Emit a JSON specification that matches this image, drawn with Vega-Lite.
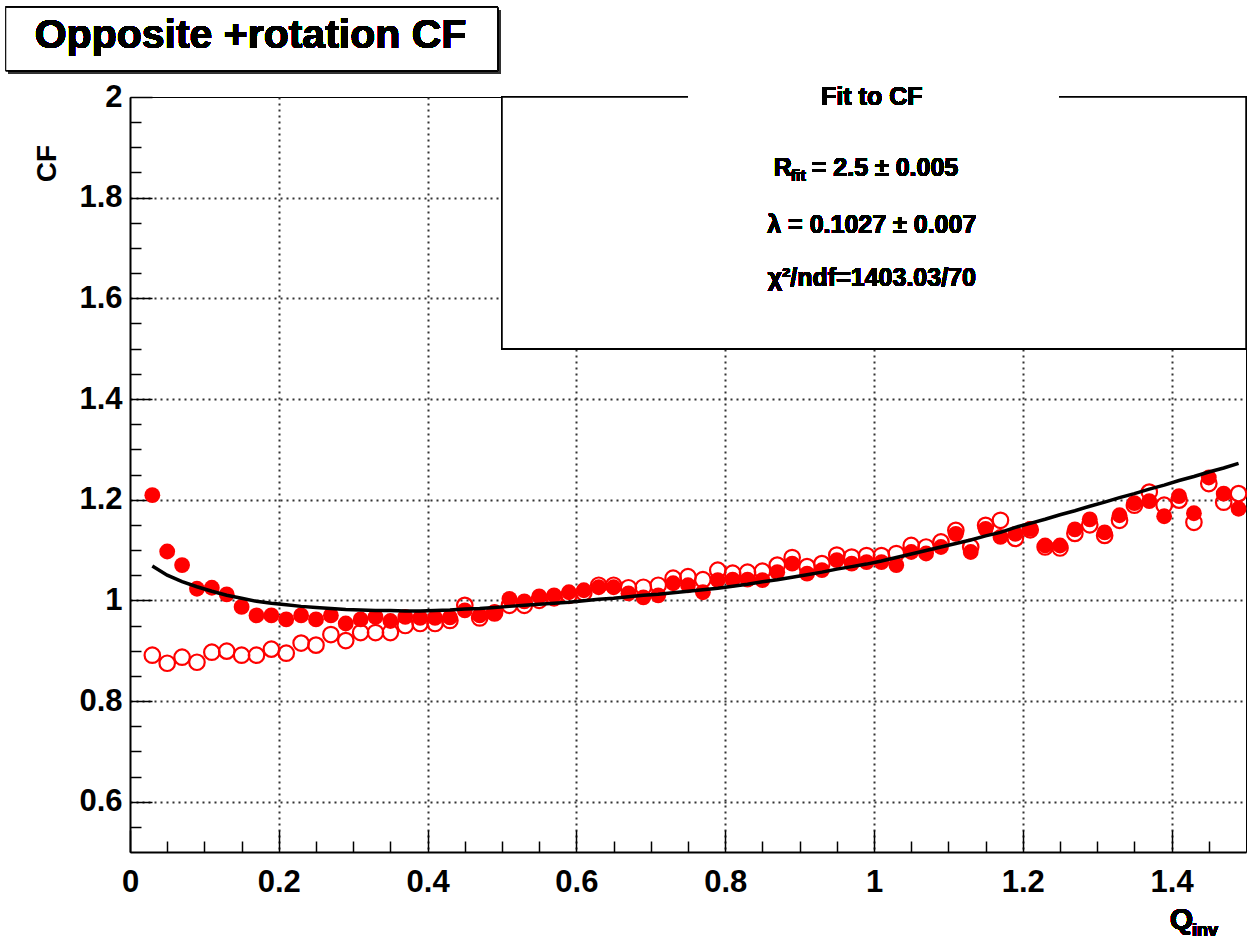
{
  "$schema": "https://vega.github.io/schema/vega-lite/v6.json",
  "autosize": "none",
  "width": 1116,
  "height": 755,
  "padding": {"left": 130, "top": 97, "right": 1, "bottom": 87},
  "background": "white",
  "config": {
    "view": {"stroke": "black", "strokeWidth": 1},
    "font": "Liberation Sans"
  },
  "resolve": {"scale": {"x": "shared", "y": "shared"}, "axis": {"x": "independent", "y": "independent"}},
  "data": {
    "values": [
      {"q": 0.03, "filled": 1.209, "open": 0.891, "fit": 1.068},
      {"q": 0.05, "filled": 1.097, "open": 0.875, "fit": 1.050},
      {"q": 0.07, "filled": 1.070, "open": 0.887, "fit": 1.037},
      {"q": 0.09, "filled": 1.023, "open": 0.877, "fit": 1.027},
      {"q": 0.11, "filled": 1.025, "open": 0.897, "fit": 1.018},
      {"q": 0.13, "filled": 1.012, "open": 0.899, "fit": 1.010},
      {"q": 0.15, "filled": 0.987, "open": 0.891, "fit": 1.004},
      {"q": 0.17, "filled": 0.970, "open": 0.891, "fit": 0.998},
      {"q": 0.19, "filled": 0.970, "open": 0.903, "fit": 0.994},
      {"q": 0.21, "filled": 0.962, "open": 0.895, "fit": 0.991},
      {"q": 0.23, "filled": 0.970, "open": 0.915, "fit": 0.988},
      {"q": 0.25, "filled": 0.962, "open": 0.911, "fit": 0.986},
      {"q": 0.27, "filled": 0.970, "open": 0.932, "fit": 0.984},
      {"q": 0.29, "filled": 0.954, "open": 0.920, "fit": 0.982},
      {"q": 0.31, "filled": 0.962, "open": 0.936, "fit": 0.981},
      {"q": 0.33, "filled": 0.967, "open": 0.936, "fit": 0.980},
      {"q": 0.35, "filled": 0.959, "open": 0.936, "fit": 0.980},
      {"q": 0.37, "filled": 0.967, "open": 0.950, "fit": 0.979},
      {"q": 0.39, "filled": 0.965, "open": 0.954, "fit": 0.979},
      {"q": 0.41, "filled": 0.965, "open": 0.954, "fit": 0.980},
      {"q": 0.43, "filled": 0.966, "open": 0.960, "fit": 0.981},
      {"q": 0.45, "filled": 0.980, "open": 0.990, "fit": 0.983},
      {"q": 0.47, "filled": 0.970, "open": 0.965, "fit": 0.984},
      {"q": 0.49, "filled": 0.976, "open": 0.975, "fit": 0.986},
      {"q": 0.51, "filled": 1.003, "open": 0.990, "fit": 0.988},
      {"q": 0.53, "filled": 0.998, "open": 0.990, "fit": 0.990},
      {"q": 0.55, "filled": 1.008, "open": 1.000, "fit": 0.992},
      {"q": 0.57, "filled": 1.010, "open": 1.005, "fit": 0.994},
      {"q": 0.59, "filled": 1.016, "open": 1.010, "fit": 0.996},
      {"q": 0.61, "filled": 1.020, "open": 1.015, "fit": 0.999},
      {"q": 0.63, "filled": 1.026, "open": 1.030, "fit": 1.002},
      {"q": 0.65, "filled": 1.026, "open": 1.030, "fit": 1.004},
      {"q": 0.67, "filled": 1.014, "open": 1.025, "fit": 1.007},
      {"q": 0.69, "filled": 1.006, "open": 1.026, "fit": 1.010},
      {"q": 0.71, "filled": 1.010, "open": 1.030, "fit": 1.012},
      {"q": 0.73, "filled": 1.034, "open": 1.044, "fit": 1.015},
      {"q": 0.75, "filled": 1.030, "open": 1.047, "fit": 1.018},
      {"q": 0.77, "filled": 1.016, "open": 1.041, "fit": 1.021},
      {"q": 0.79, "filled": 1.040, "open": 1.060, "fit": 1.024},
      {"q": 0.81, "filled": 1.041, "open": 1.054, "fit": 1.028},
      {"q": 0.83, "filled": 1.041, "open": 1.056, "fit": 1.032},
      {"q": 0.85, "filled": 1.040, "open": 1.058, "fit": 1.037},
      {"q": 0.87, "filled": 1.056, "open": 1.070, "fit": 1.041},
      {"q": 0.89, "filled": 1.073, "open": 1.085, "fit": 1.046},
      {"q": 0.91, "filled": 1.053, "open": 1.067, "fit": 1.051},
      {"q": 0.93, "filled": 1.060, "open": 1.073, "fit": 1.056},
      {"q": 0.95, "filled": 1.080, "open": 1.090, "fit": 1.062},
      {"q": 0.97, "filled": 1.073, "open": 1.086, "fit": 1.067},
      {"q": 0.99, "filled": 1.076, "open": 1.089, "fit": 1.072},
      {"q": 1.01, "filled": 1.076, "open": 1.089, "fit": 1.078},
      {"q": 1.03, "filled": 1.070, "open": 1.093, "fit": 1.085},
      {"q": 1.05, "filled": 1.096, "open": 1.109, "fit": 1.092},
      {"q": 1.07, "filled": 1.093, "open": 1.106, "fit": 1.099},
      {"q": 1.09, "filled": 1.106, "open": 1.116, "fit": 1.106},
      {"q": 1.11, "filled": 1.132, "open": 1.139, "fit": 1.113},
      {"q": 1.13, "filled": 1.096, "open": 1.106, "fit": 1.120},
      {"q": 1.15, "filled": 1.142, "open": 1.149, "fit": 1.128},
      {"q": 1.17, "filled": 1.126, "open": 1.159, "fit": 1.135},
      {"q": 1.19, "filled": 1.132, "open": 1.123, "fit": 1.145},
      {"q": 1.21, "filled": 1.142, "open": 1.140, "fit": 1.153},
      {"q": 1.23, "filled": 1.109, "open": 1.106, "fit": 1.161},
      {"q": 1.25, "filled": 1.109, "open": 1.104, "fit": 1.170},
      {"q": 1.27, "filled": 1.141, "open": 1.133, "fit": 1.178},
      {"q": 1.29, "filled": 1.161, "open": 1.150, "fit": 1.187},
      {"q": 1.31, "filled": 1.135, "open": 1.129, "fit": 1.195},
      {"q": 1.33, "filled": 1.169, "open": 1.159, "fit": 1.204},
      {"q": 1.35, "filled": 1.193, "open": 1.189, "fit": 1.212},
      {"q": 1.37, "filled": 1.197, "open": 1.215, "fit": 1.221},
      {"q": 1.39, "filled": 1.167, "open": 1.189, "fit": 1.229},
      {"q": 1.41, "filled": 1.207, "open": 1.199, "fit": 1.238},
      {"q": 1.43, "filled": 1.173, "open": 1.155, "fit": 1.246},
      {"q": 1.45, "filled": 1.244, "open": 1.232, "fit": 1.255},
      {"q": 1.47, "filled": 1.212, "open": 1.195, "fit": 1.263},
      {"q": 1.49, "filled": 1.182, "open": 1.212, "fit": 1.272}
    ]
  },
  "layer": [
    {
      "mark": {"type": "point", "shape": "circle", "filled": true, "color": "#ff0000", "size": 250, "opacity": 1},
      "encoding": {
        "x": {
          "field": "q", "type": "quantitative",
          "scale": {"domain": [0, 1.5], "nice": false, "zero": false},
          "axis": {
            "orient": "bottom",
            "values": [0, 0.2, 0.4, 0.6, 0.8, 1.0, 1.2, 1.4],
            "title": null,
            "format": "~g",
            "labelOverlap": false,
            "labelFlush": false,
            "labelFont": "Liberation Sans",
            "labelFontWeight": "bold",
            "labelFontSize": 31,
            "labelColor": "black",
            "labelPadding": 37,
            "labelBaseline": "top",
            "domainColor": "black",
            "domainWidth": 2,
            "tickColor": "black",
            "tickWidth": 1.5,
            "tickSize": -22,
            "grid": true,
            "gridColor": "#333333",
            "gridWidth": 2,
            "gridDash": [2, 4],
            "gridOpacity": {"condition": {"test": "datum.value > 0.01", "value": 1}, "value": 0}
          }
        },
        "y": {
          "field": "filled", "type": "quantitative",
          "scale": {"domain": [0.5, 2.0], "nice": false, "zero": false},
          "axis": {
            "orient": "left",
            "values": [0.6, 0.8, 1.0, 1.2, 1.4, 1.6, 1.8, 2.0],
            "title": "CF",
            "titleFont": "Liberation Sans",
            "titleFontWeight": "bold",
            "titleFontSize": 28,
            "titleColor": "black",
            "titleAngle": -90,
            "titleAlign": "center",
            "titleBaseline": "middle",
            "titleX": -83,
            "titleY": 66,
            "format": "~g",
            "labelOverlap": false,
            "labelFlush": false,
            "labelFont": "Liberation Sans",
            "labelFontWeight": "bold",
            "labelFontSize": 31,
            "labelColor": "black",
            "labelPadding": 30,
            "labelBaseline": "middle",
            "domainColor": "black",
            "domainWidth": 2,
            "tickColor": "black",
            "tickWidth": 1.5,
            "tickSize": -22,
            "grid": true,
            "gridColor": "#333333",
            "gridWidth": 2,
            "gridDash": [2, 4],
            "gridOpacity": {"condition": {"test": "datum.value < 1.99", "value": 1}, "value": 0}
          }
        }
      }
    },
    {
      "mark": {"type": "point", "shape": "circle", "filled": false, "stroke": "#ff0000", "strokeWidth": 2.2, "size": 240, "opacity": 1},
      "encoding": {
        "x": {
          "field": "q", "type": "quantitative",
          "axis": {
            "orient": "bottom",
            "values": [0.05, 0.1, 0.15, 0.25, 0.3, 0.35, 0.45, 0.5, 0.55, 0.65, 0.7, 0.75, 0.85, 0.9, 0.95, 1.05, 1.1, 1.15, 1.25, 1.3, 1.35, 1.45],
            "title": null,
            "labels": false,
            "domain": false,
            "grid": false,
            "tickColor": "black",
            "tickWidth": 1.5,
            "tickSize": -11
          }
        },
        "y": {
          "field": "open", "type": "quantitative",
          "axis": {
            "orient": "left",
            "values": [0.55, 0.65, 0.7, 0.75, 0.85, 0.9, 0.95, 1.05, 1.1, 1.15, 1.25, 1.3, 1.35, 1.45, 1.5, 1.55, 1.65, 1.7, 1.75, 1.85, 1.9, 1.95],
            "title": null,
            "labels": false,
            "domain": false,
            "grid": false,
            "tickColor": "black",
            "tickWidth": 1.5,
            "tickSize": -11
          }
        }
      }
    },
    {
      "mark": {"type": "line", "color": "black", "strokeWidth": 3.5},
      "encoding": {
        "x": {"field": "q", "type": "quantitative", "axis": null},
        "y": {"field": "fit", "type": "quantitative", "axis": null}
      }
    },
    {
      "mark": {"type": "rect", "fill": "white", "stroke": "black", "strokeWidth": 1.5},
      "encoding": {
        "x": {"datum": 0.5, "type": "quantitative", "axis": null},
        "x2": {"datum": 1.5},
        "y": {"datum": 2.0, "type": "quantitative", "axis": null},
        "y2": {"datum": 1.5}
      }
    },
    {
      "mark": {"type": "rule", "color": "white", "strokeWidth": 4},
      "encoding": {
        "x": {"datum": 0.751, "type": "quantitative", "axis": null},
        "x2": {"datum": 1.248},
        "y": {"datum": 2.0, "type": "quantitative", "axis": null}
      }
    },
    {
      "mark": {"type": "text", "text": "Fit to CF", "font": "Liberation Sans", "fontWeight": "bold", "fontSize": 25, "align": "center", "baseline": "middle", "color": "black"},
      "encoding": {
        "x": {"datum": 0.997, "type": "quantitative", "axis": null},
        "y": {"datum": 2.0, "type": "quantitative", "axis": null}
      }
    },
    {
      "mark": {"type": "text", "text": "R", "font": "Liberation Sans", "fontWeight": "bold", "fontSize": 25, "align": "right", "baseline": "middle", "dx": -80, "color": "black"},
      "encoding": {
        "x": {"datum": 0.997, "type": "quantitative", "axis": null},
        "y": {"datum": 1.858, "type": "quantitative", "axis": null}
      }
    },
    {
      "mark": {"type": "text", "text": "fit", "font": "Liberation Sans", "fontWeight": "bold", "fontSize": 16, "align": "left", "baseline": "middle", "dx": -81, "dy": 8, "color": "black"},
      "encoding": {
        "x": {"datum": 0.997, "type": "quantitative", "axis": null},
        "y": {"datum": 1.858, "type": "quantitative", "axis": null}
      }
    },
    {
      "mark": {"type": "text", "text": "= 2.5 ± 0.005", "font": "Liberation Sans", "fontWeight": "bold", "fontSize": 25, "align": "left", "baseline": "middle", "dx": -60, "color": "black"},
      "encoding": {
        "x": {"datum": 0.997, "type": "quantitative", "axis": null},
        "y": {"datum": 1.858, "type": "quantitative", "axis": null}
      }
    },
    {
      "mark": {"type": "text", "text": "λ = 0.1027 ± 0.007", "font": "Liberation Sans", "fontWeight": "bold", "fontSize": 25, "align": "center", "baseline": "middle", "color": "black"},
      "encoding": {
        "x": {"datum": 0.997, "type": "quantitative", "axis": null},
        "y": {"datum": 1.745, "type": "quantitative", "axis": null}
      }
    },
    {
      "mark": {"type": "text", "text": "χ²/ndf=1403.03/70", "font": "Liberation Sans", "fontWeight": "bold", "fontSize": 25, "align": "center", "baseline": "middle", "color": "black"},
      "encoding": {
        "x": {"datum": 0.997, "type": "quantitative", "axis": null},
        "y": {"datum": 1.641, "type": "quantitative", "axis": null}
      }
    },
    {
      "mark": {"type": "rect", "fill": "#333333", "xOffset": 3, "x2Offset": 3, "yOffset": 3, "y2Offset": 3},
      "encoding": {
        "x": {"datum": -0.167, "type": "quantitative", "axis": null},
        "x2": {"datum": 0.494},
        "y": {"datum": 2.178, "type": "quantitative", "axis": null},
        "y2": {"datum": 2.0526}
      }
    },
    {
      "mark": {"type": "rect", "fill": "white", "stroke": "black", "strokeWidth": 1},
      "encoding": {
        "x": {"datum": -0.167, "type": "quantitative", "axis": null},
        "x2": {"datum": 0.494},
        "y": {"datum": 2.178, "type": "quantitative", "axis": null},
        "y2": {"datum": 2.0526}
      }
    },
    {
      "mark": {"type": "text", "text": "Opposite +rotation CF", "font": "Liberation Sans", "fontWeight": "bold", "fontSize": 41, "align": "center", "baseline": "middle", "color": "black"},
      "encoding": {
        "x": {"datum": 0.162, "type": "quantitative", "axis": null},
        "y": {"datum": 2.122, "type": "quantitative", "axis": null}
      }
    },
    {
      "mark": {"type": "text", "text": "Q", "font": "Liberation Sans", "fontWeight": "bold", "fontSize": 30, "align": "right", "baseline": "middle", "dx": -53, "dy": 68, "color": "black"},
      "encoding": {
        "x": {"datum": 1.5, "type": "quantitative", "axis": null},
        "y": {"datum": 0.5, "type": "quantitative", "axis": null}
      }
    },
    {
      "mark": {"type": "text", "text": "inv", "font": "Liberation Sans", "fontWeight": "bold", "fontSize": 18, "align": "left", "baseline": "middle", "dx": -54, "dy": 79, "color": "black"},
      "encoding": {
        "x": {"datum": 1.5, "type": "quantitative", "axis": null},
        "y": {"datum": 0.5, "type": "quantitative", "axis": null}
      }
    }
  ]
}
